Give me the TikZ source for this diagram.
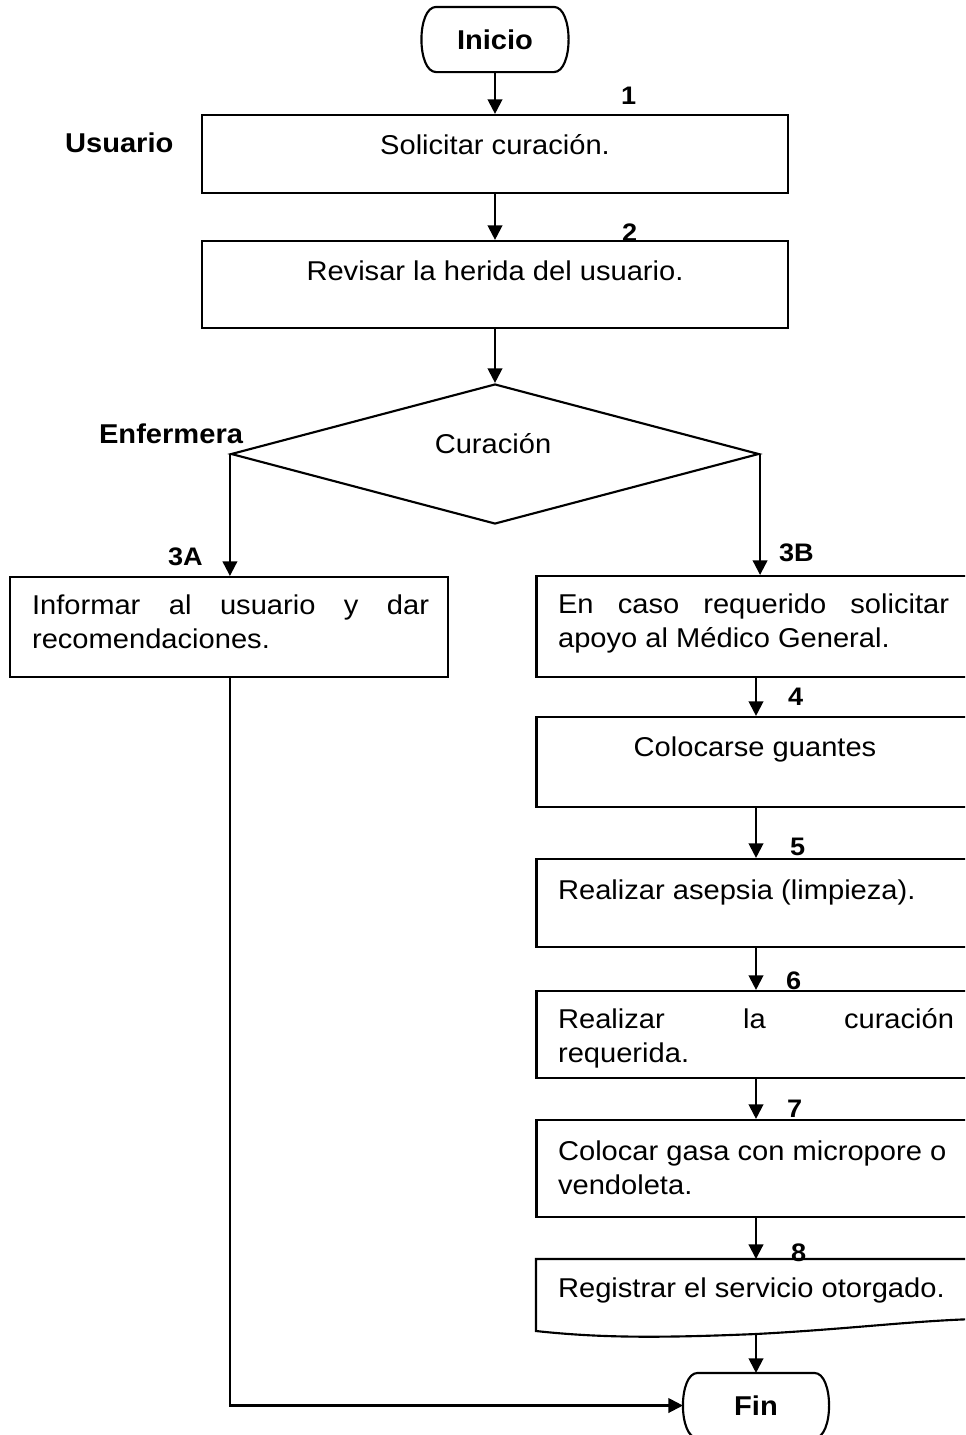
\documentclass[tikz,border=0pt]{standalone}
\usepackage{fontspec}
\setmainfont{Liberation Sans}[FakeStretch=1.07]
\usetikzlibrary{arrows.meta,shapes.geometric}
\newcommand\bodyfont{\fontsize{20.4}{26}\selectfont}
\newcommand\labfont{\fontsize{19}{22}\selectfont\bfseries}
\newcommand\lanefont{\fontsize{20.4}{26}\selectfont\bfseries}
\begin{document}
\begin{tikzpicture}[x=0.75pt,y=-0.75pt,line width=1.6pt,
  pbox/.style 2 args={draw, rectangle, inner sep=0pt, minimum width=#1*0.75pt, minimum height=#2*0.75pt},
  term/.style 2 args={rectangle, inner sep=0pt, minimum width=#1*0.75pt, minimum height=#2*0.75pt, font=\lanefont},
  decis/.style={draw, diamond, inner sep=0pt, minimum width=528*0.75pt, minimum height=140*0.75pt},
  tc/.style={anchor=base, inner sep=0pt, font=\bodyfont},
  tl/.style={anchor=base west, inner sep=0pt, font=\bodyfont},
  lab/.style={anchor=base west, inner sep=0pt, font=\labfont},
  lane/.style={anchor=base west, inner sep=0pt, font=\lanefont},
  arr/.style={-{Triangle[length=11pt,width=11pt]}}]
\useasboundingbox (0,0) rectangle (965,1435);
\clip (0,0) rectangle (965,1435);

% terminators
\node[term={145}{63}] (ini) at (495,39.5) {Inicio};
\draw ([xshift=11pt]ini.north west) -- ([xshift=-11pt]ini.north east)
  .. controls ([xshift=3.67pt]ini.north east) and ([xshift=3.67pt]ini.south east) .. ([xshift=-11pt]ini.south east)
  -- ([xshift=11pt]ini.south west)
  .. controls ([xshift=-3.67pt]ini.south west) and ([xshift=-3.67pt]ini.north west) .. ([xshift=11pt]ini.north west) -- cycle;
\node[term={144}{63}] (fin) at (756,1405.5) {Fin};
\draw ([xshift=11pt]fin.north west) -- ([xshift=-11pt]fin.north east)
  .. controls ([xshift=3.67pt]fin.north east) and ([xshift=3.67pt]fin.south east) .. ([xshift=-11pt]fin.south east)
  -- ([xshift=11pt]fin.south west)
  .. controls ([xshift=-3.67pt]fin.south west) and ([xshift=-3.67pt]fin.north west) .. ([xshift=11pt]fin.north west) -- cycle;

% process boxes
\node[pbox={586}{78}] (b1) at (495,154) {};
\node[pbox={586}{87}] (b2) at (495,284.5) {};
\node[decis] (dia) at (495,454) {};
\node[pbox={438}{100}] (b3a) at (229,627) {};
\node[pbox={439}{101}] (b3b) at (756,626.5) {};
\node[pbox={439}{90}] (b4) at (756,762) {};
\node[pbox={439}{88}] (b5) at (756,903) {};
\node[pbox={439}{87}] (b6) at (756,1034.5) {};
\node[pbox={439}{97}] (b7) at (756,1168.5) {};
\coordinate (b8top) at (756,1259);
\coordinate (b8bot) at (756,1335);
\draw (975,1259) -- (536,1259) -- (536,1331)
  .. controls (600,1338) and (660,1338) .. (756,1334)
  .. controls (850,1329) and (910,1321) .. (975,1319);

% texts
\node[tc] (t1) at (495,154) {Solicitar curación.};
\node[tc] (t2) at (495,280) {Revisar la herida del usuario.};
\node[tc] (td) at (493,453) {Curación};
\node[tl] (t3a) at (31,614) {\parbox[t]{297.75pt}{\makebox[297.75pt][s]{Informar al usuario y dar}\\recomendaciones.}};
\node[tl] (t3b) at (557,613) {\parbox[t]{293.25pt}{\makebox[293.25pt][s]{En caso requerido solicitar}\\apoyo al Médico General.}};
\node[tc] (t4) at (755,756) {Colocarse guantes};
\node[tl] (t5) at (557,899) {Realizar asepsia (limpieza).};
\node[tl] (t6) at (557,1028) {\parbox[t]{297pt}{\makebox[297pt][s]{Realizar la curación}\\requerida.}};
\node[tl] (t7) at (557,1160) {\parbox[t]{300pt}{Colocar gasa con micropore o\\vendoleta.}};
\node[tl] (t8) at (557,1297) {Registrar el servicio otorgado.};

% lane and step labels
\node[lane] (lu) at (64,152) {Usuario};
\node[lane] (le) at (98,443) {Enfermera};
\node[lab] (n1) at (620,104) {1};
\node[lab] (n2) at (621,241) {2};
\node[lab] (n3a) at (167,565) {3A};
\node[lab] (n3b) at (778,561) {3B};
\node[lab] (n4) at (787,705) {4};
\node[lab] (n5) at (789,855) {5};
\node[lab] (n6) at (785,989) {6};
\node[lab] (n7) at (786,1117) {7};
\node[lab] (n8) at (790,1261) {8};

% connectors
\draw[arr] (ini.south) -- (b1.north);
\draw[arr] (b1.south) -- (b2.north);
\draw[arr] (b2.south) -- (dia.north);
\draw[arr] (dia.west) -- (dia.west |- b3a.north);
\draw[arr] (dia.east) -- (dia.east |- b3b.north);
\draw[arr] (b3b.south) -- (b4.north);
\draw[arr] (b4.south) -- (b5.north);
\draw[arr] (b5.south) -- (b6.north);
\draw[arr] (b6.south) -- (b7.north);
\draw[arr] (b7.south) -- (b8top);
\draw[arr] (b8bot) -- (fin.north);
\draw[arr] (b3a.south -| dia.west) |- (fin.west);
\end{tikzpicture}
\end{document}
